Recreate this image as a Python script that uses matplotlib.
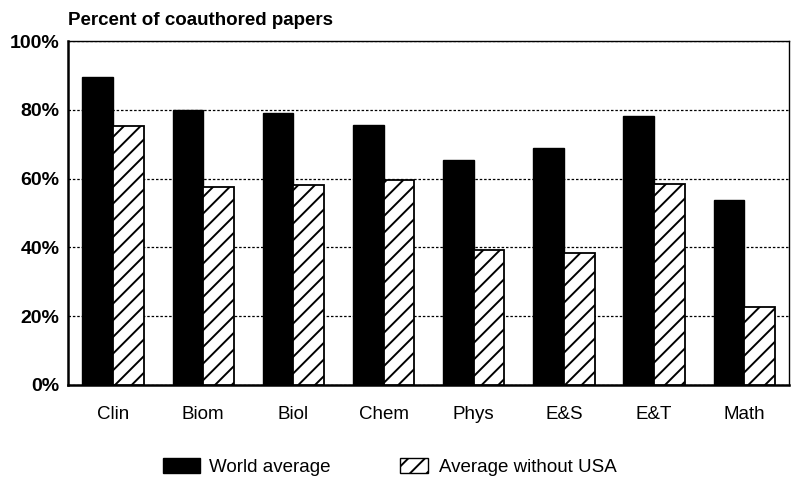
import matplotlib
matplotlib.use("Agg")
import matplotlib.pyplot as plt
import numpy as np
from matplotlib.patches import Patch

categories = ["Clin", "Biom", "Biol", "Chem", "Phys", "E&S", "E&T", "Math"]
world_avg = [89.6, 80.0, 79.0, 75.6, 65.5, 68.8, 78.3, 53.8]
without_usa = [75.4, 57.5, 58.2, 59.7, 39.3, 38.4, 58.4, 22.7]
yticks = [0, 20, 40, 60, 80, 100]

plt.rcParams['font.family'] = ['Liberation Sans', 'DejaVu Sans']
plt.rcParams['hatch.linewidth'] = 1.4

fig = plt.figure(figsize=(7.91, 4.83), dpi=100)
ax = fig.add_axes([0.086, 0.203, 0.912, 0.712])

x = np.arange(len(categories))
w = 0.34
ax.bar(x - w/2, world_avg, w, color='black', edgecolor='black', linewidth=1, zorder=3)
ax.bar(x + w/2, without_usa, w, color='white', edgecolor='black', hatch='//', linewidth=1.3, zorder=3)

ax.set_xlim(-0.5, len(categories) - 0.5)
ax.set_ylim(0, 100)
ax.set_yticks(yticks)
ax.set_yticklabels([f"{v}%" for v in yticks], fontsize=14, fontweight='bold')
ax.set_xticks(x)
ax.set_xticklabels(categories, fontsize=13.5)
ax.tick_params(axis='x', length=0, pad=15)
ax.tick_params(axis='y', length=0, pad=6)
ax.yaxis.grid(True, linestyle=(0, (2, 1.5)), color='black', linewidth=0.9, zorder=0)
for s in ['left', 'bottom']:
    ax.spines[s].set_linewidth(1.8)
for s in ['top', 'right']:
    ax.spines[s].set_linewidth(1.0)

fig.text(0.086, 0.94, "Percent of coauthored papers", fontsize=13.5, fontweight='bold',
         ha='left', va='bottom')

h1 = [Patch(facecolor='black', edgecolor='black', label='World average')]
h2 = [Patch(facecolor='white', edgecolor='black', hatch='//', label='Average without USA')]
leg1 = fig.legend(handles=h1, loc='center left', bbox_to_anchor=(0.206, 0.033), frameon=False,
                  fontsize=13.5, handlelength=2.0, handleheight=0.85, handletextpad=0.45,
                  borderpad=0, borderaxespad=0)
leg2 = fig.legend(handles=h2, loc='center left', bbox_to_anchor=(0.506, 0.033), frameon=False,
                  fontsize=13.5, handlelength=1.5, handleheight=0.85, handletextpad=0.55,
                  borderpad=0, borderaxespad=0)

fig.savefig("out.png", dpi=100)
